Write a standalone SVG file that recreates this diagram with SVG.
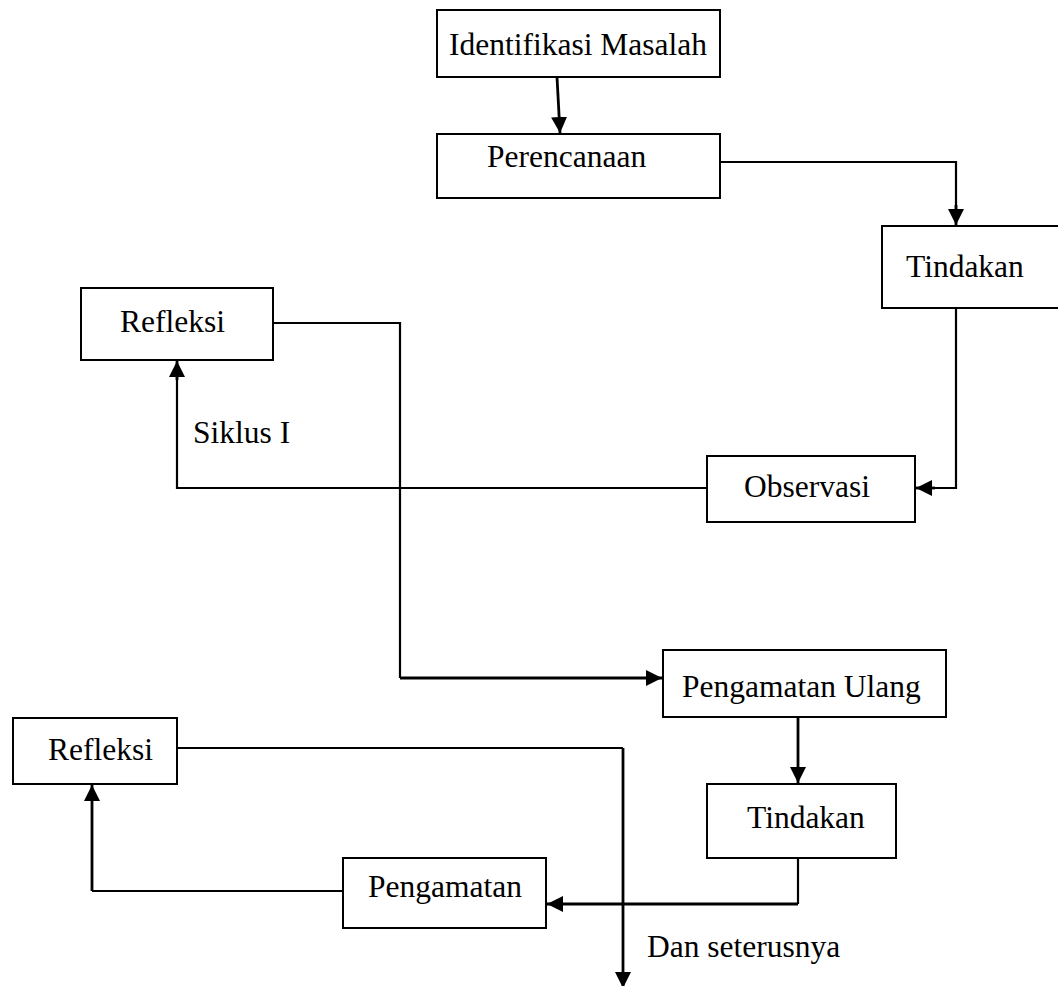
<svg xmlns="http://www.w3.org/2000/svg" width="1058" height="986" viewBox="0 0 1058 986">
<style>
.box{fill:#fff;stroke:#000;stroke-width:2}
.lbl{font-family:"Liberation Serif","Times New Roman",serif;font-size:31.5px;fill:#000}
.ln{fill:none;stroke:#000;stroke-width:2.2}
.ar{fill:none;stroke:#000;stroke-width:2.8}
</style>
<defs>
<marker id="ah" markerUnits="userSpaceOnUse" markerWidth="18" markerHeight="18" refX="16" refY="8" orient="auto">
<path d="M0,0 L16,8 L0,16 z" fill="#000"/>
</marker>
</defs>
<rect width="1058" height="986" fill="#fff"/>
<g id="connectors">
<path class="ar" d="M557,77 L560,133" marker-end="url(#ah)"/>
<path class="ln" d="M720,162 H956 V210"/>
<path class="ar" d="M956,205 V225" marker-end="url(#ah)"/>
<path class="ln" d="M956,308 V488 H930"/>
<path class="ar" d="M935,488 H916" marker-end="url(#ah)"/>
<path class="ln" d="M707,488 H177 V375"/>
<path class="ar" d="M177,380 V361" marker-end="url(#ah)"/>
<path class="ln" d="M273,323 H400 V678"/>
<path class="ar" d="M400,678 H662" marker-end="url(#ah)"/>
<path class="ar" d="M798,717 V783" marker-end="url(#ah)"/>
<path class="ln" d="M798,858 V904"/>
<path class="ar" d="M798,904 H547" marker-end="url(#ah)"/>
<path class="ln" d="M343,891 H92"/>
<path class="ar" d="M92,891 V785" marker-end="url(#ah)"/>
<path class="ln" d="M177,748 H623"/>
<path class="ar" d="M623,748 V988" marker-end="url(#ah)"/>
</g>
<g id="identifikasi"><rect class="box" x="437" y="10" width="283" height="67"/><text class="lbl" x="449" y="55">Identifikasi Masalah</text></g>
<g id="perencanaan"><rect class="box" x="437" y="134" width="283" height="64"/><text class="lbl" x="487" y="167">Perencanaan</text></g>
<g id="tindakan1"><rect class="box" x="882" y="226" width="180" height="82"/><text class="lbl" x="906" y="277">Tindakan</text></g>
<g id="refleksi1"><rect class="box" x="81" y="288" width="192" height="72"/><text class="lbl" x="120" y="332">Refleksi</text></g>
<g id="siklus"><text class="lbl" x="193" y="443">Siklus I</text></g>
<g id="observasi"><rect class="box" x="707" y="456" width="208" height="66"/><text class="lbl" x="744" y="497">Observasi</text></g>
<g id="pengamatan-ulang"><rect class="box" x="663" y="650" width="283" height="67"/><text class="lbl" x="682" y="697">Pengamatan Ulang</text></g>
<g id="refleksi2"><rect class="box" x="13" y="718" width="164" height="66"/><text class="lbl" x="48" y="760">Refleksi</text></g>
<g id="tindakan2"><rect class="box" x="707" y="784" width="189" height="74"/><text class="lbl" x="747" y="828">Tindakan</text></g>
<g id="pengamatan"><rect class="box" x="343" y="858" width="203" height="70"/><text class="lbl" x="368" y="897">Pengamatan</text></g>
<g id="dan-seterusnya"><text class="lbl" x="647" y="957">Dan seterusnya</text></g>
</svg>
